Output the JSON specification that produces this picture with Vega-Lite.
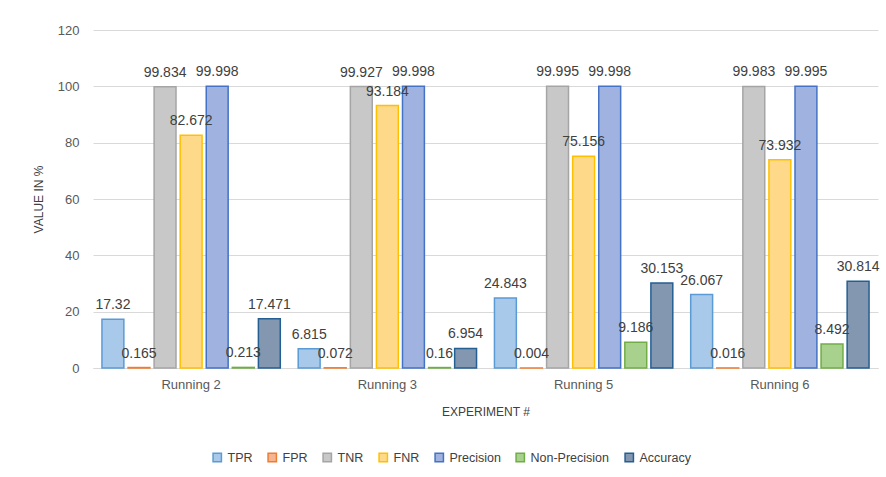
{
  "$schema": "https://vega.github.io/schema/vega-lite/v6.json",
  "autosize": {"type": "fit", "contains": "padding"},
  "width": 886,
  "height": 477,
  "padding": {"left": 32, "top": 24, "right": 8, "bottom": 60},
  "background": "white",
  "data": {
    "values": [
      {"run": "Running 2", "metric": "TPR", "value": 17.32},
      {"run": "Running 2", "metric": "FPR", "value": 0.165},
      {"run": "Running 2", "metric": "TNR", "value": 99.834},
      {"run": "Running 2", "metric": "FNR", "value": 82.672},
      {"run": "Running 2", "metric": "Precision", "value": 99.998},
      {"run": "Running 2", "metric": "Non-Precision", "value": 0.213},
      {"run": "Running 2", "metric": "Accuracy", "value": 17.471},
      {"run": "Running 3", "metric": "TPR", "value": 6.815},
      {"run": "Running 3", "metric": "FPR", "value": 0.072},
      {"run": "Running 3", "metric": "TNR", "value": 99.927},
      {"run": "Running 3", "metric": "FNR", "value": 93.184},
      {"run": "Running 3", "metric": "Precision", "value": 99.998},
      {"run": "Running 3", "metric": "Non-Precision", "value": 0.16},
      {"run": "Running 3", "metric": "Accuracy", "value": 6.954},
      {"run": "Running 5", "metric": "TPR", "value": 24.843},
      {"run": "Running 5", "metric": "FPR", "value": 0.004},
      {"run": "Running 5", "metric": "TNR", "value": 99.995},
      {"run": "Running 5", "metric": "FNR", "value": 75.156},
      {"run": "Running 5", "metric": "Precision", "value": 99.998},
      {"run": "Running 5", "metric": "Non-Precision", "value": 9.186},
      {"run": "Running 5", "metric": "Accuracy", "value": 30.153},
      {"run": "Running 6", "metric": "TPR", "value": 26.067},
      {"run": "Running 6", "metric": "FPR", "value": 0.016},
      {"run": "Running 6", "metric": "TNR", "value": 99.983},
      {"run": "Running 6", "metric": "FNR", "value": 73.932},
      {"run": "Running 6", "metric": "Precision", "value": 99.995},
      {"run": "Running 6", "metric": "Non-Precision", "value": 8.492},
      {"run": "Running 6", "metric": "Accuracy", "value": 30.814}
    ]
  },
  "encoding": {
    "x": {
      "field": "run", "type": "nominal", "title": "EXPERIMENT #",
      "scale": {"paddingInner": 0.07, "paddingOuter": 0.035},
      "axis": {"labelAngle": 0, "ticks": false, "domainColor": "#d9d9d9", "labelPadding": 10, "titlePadding": 15}
    },
    "xOffset": {
      "field": "metric", "type": "nominal",
      "sort": ["TPR", "FPR", "TNR", "FNR", "Precision", "Non-Precision", "Accuracy"],
      "scale": {"paddingInner": 0.16, "paddingOuter": 0.08}
    },
    "y": {
      "field": "value", "type": "quantitative", "title": "VALUE IN %",
      "scale": {"domain": [0, 120]},
      "axis": {"values": [0, 20, 40, 60, 80, 100, 120], "domain": false, "ticks": false, "gridColor": "#d9d9d9", "labelPadding": 14, "titlePadding": 12}
    }
  },
  "layer": [
    {
      "mark": {"type": "bar", "strokeWidth": 1.5},
      "encoding": {
        "fill": {
          "field": "metric", "type": "nominal",
          "sort": ["TPR", "FPR", "TNR", "FNR", "Precision", "Non-Precision", "Accuracy"],
          "scale": {
            "domain": ["TPR", "FPR", "TNR", "FNR", "Precision", "Non-Precision", "Accuracy"],
            "range": ["#a9c9ea", "#f5b592", "#c8c8c8", "#ffd98a", "#a0b2df", "#a9d18e", "#8497b0"]
          },
          "legend": {"title": null, "orient": "none", "legendX": 118, "legendY": 421, "direction": "horizontal", "symbolType": "square", "symbolSize": 70, "columnPadding": 12, "labelOffset": 4, "labelFontSize": 12.5, "labelColor": "#404040", "symbolStrokeWidth": 1.5}
        },
        "stroke": {
          "field": "metric", "type": "nominal",
          "scale": {
            "domain": ["TPR", "FPR", "TNR", "FNR", "Precision", "Non-Precision", "Accuracy"],
            "range": ["#5b9bd5", "#ed7d31", "#a5a5a5", "#ffc000", "#4472c4", "#70ad47", "#255e91"]
          },
          "legend": null
        }
      }
    },
    {
      "mark": {"type": "text", "dy": -14, "fontSize": 14, "color": "#404040", "font": "Liberation Sans"},
      "encoding": {"text": {"field": "value", "type": "quantitative"}}
    }
  ],
  "config": {
    "font": "Liberation Sans",
    "view": {"stroke": null},
    "axis": {"labelFontSize": 13, "labelColor": "#595959", "titleFontSize": 12, "titleFontWeight": "normal", "titleColor": "#404040", "labelFont": "Liberation Sans", "titleFont": "Liberation Sans"},
    "legend": {"labelFont": "Liberation Sans"}
  }
}
